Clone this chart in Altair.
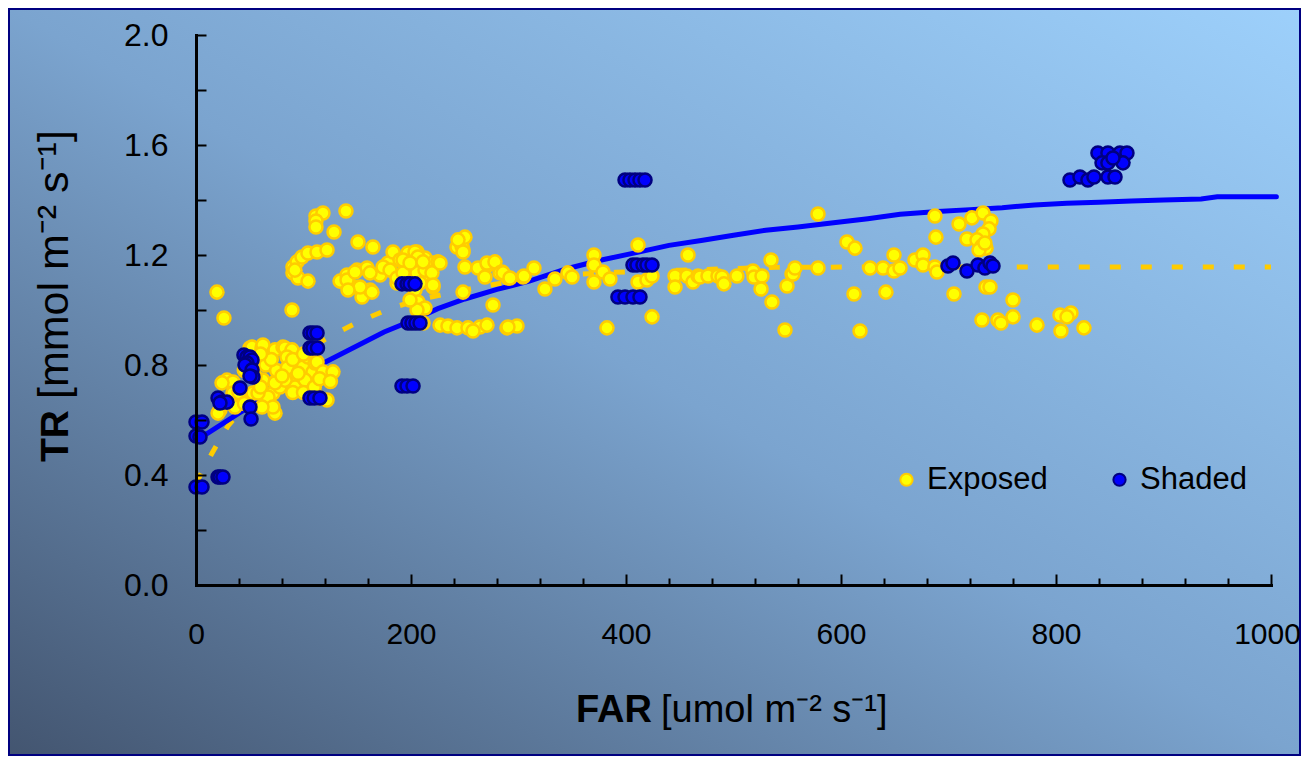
import altair as alt
import pandas as pd

FONT = "Liberation Sans, Arial, Helvetica, sans-serif"

series_names = ["Exposed", "Shaded"]
fill_colors = ["#FFFF00", "#0000FF"]
stroke_colors = ["#FFCC00", "#000080"]

exposed_x = [19.5, 26.0, 89.3, 111.6, 118.1, 111.6, 111.6, 139.5, 128.4, 150.7, 164.6,
             90.2, 94.0, 98.6, 104.2, 112.6, 121.9, 90.2, 94.9, 104.2, 92.0,
             134.0, 140.5, 149.8, 159.1, 154.4, 161.9, 146.0, 171.2, 178.6, 183.3, 189.8, 199.1, 205.6, 213.0, 220.5, 225.1, 220.5, 187.0, 199.1, 205.6, 211.2,
             140.5, 147.9, 161.9, 174.0, 152.6, 163.7, 141.4, 180.5, 187.0, 192.6, 205.6, 213.0, 219.5, 220.5, 208.4, 203.7, 206.5, 213.0, 205.6, 199.1, 197.2, 203.7, 206.5, 192.6, 199.1, 211.2, 227.0,
             245.6, 248.4, 242.8, 247.4, 250.2, 243.7, 248.4, 250.2, 262.3, 271.6, 270.7, 278.1, 284.6, 268.8, 276.3, 282.8, 290.2, 304.2, 248.4,
             211.2, 227.0, 234.4, 242.8, 253.0, 264.2, 270.7, 257.7, 289.3, 298.6,
             50.2, 52.1, 61.4, 62.3, 73.5, 80.9, 82.8, 89.3, 84.6, 99.5, 104.2, 108.8, 110.7, 112.6, 118.1, 127.4,
             28.8, 34.4, 24.2, 22.3, 20.5, 34.4, 36.3,
             62.3, 71.6, 78.1, 87.4, 66.0, 73.5, 53.0, 94.9, 103.3, 115.3, 121.9, 67.0, 57.7, 92.1, 101.4, 82.8, 73.5, 71.6, 61.4, 113.5,
             45.0, 55.0, 65.0, 75.0, 85.0, 95.0, 60.0, 80.0, 90.0, 100.0, 110.0, 40.0, 45.0, 70.0, 90.0, 100.0, 115.0, 125.0, 60.0,
             285.6, 292.1, 305.1, 314.4, 324.6, 333.9, 346.0, 349.8, 370.2, 370.2, 370.2, 378.6, 385.1, 411.2, 411.2, 419.5, 424.2, 424.2, 382.3, 290.2,
             445.6, 445.6, 456.7, 457.7, 462.3, 467.0, 468.8, 476.3, 485.6, 489.3, 491.1, 503.2, 518.1, 519.1, 526.5, 525.6, 534.9, 535.8, 547.9, 549.8, 554.4, 555.3, 557.2,
             578.6, 578.6, 605.6, 613.0, 612.1, 617.7, 627.0, 639.1, 649.3, 649.3, 654.9, 641.8, 668.8, 676.3, 676.3,
             687.4, 688.3, 687.4, 689.3, 705.1, 709.8, 717.2, 721.8, 732.1, 739.5, 737.7, 732.1, 726.5, 731.1, 734.9, 728.4, 733.9, 734.9, 738.6,
             731.1, 746.0, 748.8, 760.0, 760.0, 782.3, 803.7, 813.9, 810.2, 804.6, 826.0]
exposed_y = [1.065, 0.971, 1.000, 1.342, 1.353, 1.324, 1.302, 1.360, 1.284, 1.247, 1.229,
             1.156, 1.175, 1.193, 1.207, 1.211, 1.218, 1.135, 1.116, 1.105, 1.145,
             1.105, 1.127, 1.145, 1.153, 1.047, 1.073, 1.084, 1.127, 1.171, 1.211, 1.182, 1.200, 1.211, 1.189, 1.171, 1.175, 1.084, 1.098, 1.135, 1.153, 1.127,
             1.109, 1.138, 1.135, 1.156, 1.084, 1.065, 1.073, 1.145, 1.116, 1.135, 1.135, 1.145, 1.135, 1.091, 1.098, 1.073, 1.029, 1.007, 1.000, 1.036, 1.207, 1.211, 1.193, 1.182, 1.171, 1.175, 1.171,
             1.247, 1.218, 1.229, 1.233, 1.265, 1.255, 1.211, 1.156, 1.153, 1.164, 1.171, 1.175, 1.138, 1.120, 1.018, 1.135, 1.116, 1.120, 1.065,
             0.953, 0.945, 0.942, 0.935, 0.935, 0.938, 0.945, 0.924, 0.935, 0.942,
             0.862, 0.865, 0.862, 0.873, 0.855, 0.865, 0.862, 0.855, 0.829, 0.793, 0.829, 0.775, 0.807, 0.811, 0.775, 0.775,
             0.745, 0.738, 0.735, 0.636, 0.625, 0.698, 0.647,
             0.745, 0.698, 0.720, 0.745, 0.673, 0.625, 0.698, 0.738, 0.735, 0.680, 0.673, 0.684, 0.698, 0.720, 0.745, 0.745, 0.735, 0.647, 0.647, 0.684,
             0.780, 0.760, 0.800, 0.780, 0.790, 0.770, 0.720, 0.760, 0.700, 0.700, 0.720, 0.700, 0.660, 0.820, 0.820, 0.840, 0.750, 0.740, 0.840,
             1.135, 1.116, 1.124, 1.153, 1.076, 1.113, 1.135, 1.120, 1.200, 1.164, 1.102, 1.138, 1.113, 1.236, 1.102, 1.109, 1.124, 0.975, 0.935, 0.938,
             1.124, 1.084, 1.124, 1.200, 1.102, 1.124, 1.120, 1.124, 1.124, 1.120, 1.095, 1.124, 1.142, 1.120, 1.124, 1.076, 1.182, 1.029, 0.927, 1.087, 1.131, 1.131, 1.153,
             1.349, 1.153, 1.247, 1.225, 1.058, 0.924, 1.153, 1.153, 1.200, 1.142, 1.153, 1.065, 1.182, 1.200, 1.164,
             1.342, 1.265, 1.156, 1.138, 1.058, 1.313, 1.258, 1.335, 1.353, 1.324, 1.295, 1.276, 1.255, 1.233, 1.225, 1.218, 1.244, 1.084, 1.084,
             0.964, 0.964, 0.953, 1.036, 0.975, 0.945, 0.982, 0.989, 0.975, 0.924, 0.935]

shaded_x = [0.0, 5.6, 0.0, 3.7, 0.0, 5.6,
            20.5, 22.3, 25.1,
            20.5, 24.2, 28.8, 22.3,
            40.9,
            44.6, 47.4, 50.2, 52.1, 47.4, 45.6, 52.1, 53.0, 50.2,
            50.2, 51.2,
            106.0, 109.0, 112.6,
            106.0, 108.8, 113.0,
            106.0, 110.0, 115.3,
            191.6, 196.3, 199.1, 203.7,
            197.2, 200.9, 204.6, 208.4,
            191.6, 196.3, 201.9,
            399.1, 403.7, 408.4, 413.0, 417.7,
            406.5, 410.2, 415.8, 419.5, 424.2,
            392.5, 399.1, 406.5, 413.0,
            699.5, 704.2, 717.2, 727.4, 733.9, 738.6, 741.4,
            813.0, 822.3, 829.7, 835.3, 848.3, 854.9, 839.0, 848.3, 859.5, 866.0, 842.8, 848.3, 862.3, 853.0]
shaded_y = [0.593, 0.593, 0.542, 0.538, 0.356, 0.356,
            0.393, 0.393, 0.393,
            0.680, 0.665, 0.665, 0.662,
            0.716,
            0.836, 0.829, 0.829, 0.818, 0.807, 0.800, 0.782, 0.756, 0.760,
            0.647, 0.604,
            0.916, 0.916, 0.916,
            0.862, 0.862, 0.862,
            0.680, 0.680, 0.680,
            1.095, 1.095, 1.095, 1.095,
            0.953, 0.953, 0.953, 0.953,
            0.724, 0.724, 0.724,
            1.473, 1.473, 1.473, 1.473, 1.473,
            1.164, 1.164, 1.164, 1.164, 1.164,
            1.047, 1.047, 1.047, 1.047,
            1.160, 1.171, 1.142, 1.164, 1.153, 1.171, 1.160,
            1.473, 1.484, 1.473, 1.484, 1.484, 1.484, 1.571, 1.571, 1.571, 1.571, 1.535, 1.535, 1.535, 1.553]

fit_shaded_x = [5, 10, 40, 80, 120, 150, 175, 200, 225, 250, 280, 310, 345, 375, 405, 440, 470, 500,
                530, 560, 595, 625, 655, 690, 720, 750, 780, 810, 840, 870, 900, 935, 950, 1005]
fit_shaded_y = [0.54, 0.55, 0.625, 0.72, 0.81, 0.87, 0.92, 0.96, 1.005, 1.04, 1.075, 1.105, 1.15, 1.18, 1.205,
                1.235, 1.253, 1.272, 1.29, 1.302, 1.318, 1.332, 1.348, 1.358, 1.365, 1.372, 1.382, 1.388,
                1.392, 1.396, 1.40, 1.404, 1.412, 1.412]

fit_exposed_x = [0, 15, 30, 50, 75, 100, 125, 150, 180, 210, 240, 270, 300, 330, 360, 390, 420, 450,
                 480, 510, 540, 600, 1000]
fit_exposed_y = [0.37, 0.48, 0.58, 0.67, 0.77, 0.845, 0.905, 0.955, 1.005, 1.04, 1.065, 1.088, 1.108,
                 1.122, 1.131, 1.137, 1.142, 1.145, 1.148, 1.152, 1.155, 1.156, 1.156]

x_tick_values = [0, 40, 80, 120, 160, 200, 240, 280, 320, 360, 400, 440, 480, 520, 560, 600, 640, 680,
                 720, 760, 800, 840, 880, 920, 960, 1000]
y_tick_values = [0.0, 0.2, 0.4, 0.6, 0.8, 1.0, 1.2, 1.4, 1.6, 1.8, 2.0]

y_title_bold = "TR"
y_title_rest = "[mmol m\u207b\u00b2 s\u207b\u00b9]"
x_title_bold = "FAR"
x_title_rest = "[umol m\u207b\u00b2 s\u207b\u00b9]"

# ---------------- layout ----------------
W, H = 1293, 748
X0, X1 = 188, 1263     # pixel positions of x = 0 and x = 1000
Y0, Y1 = 577, 27       # pixel positions of y = 0 and y = 2.0

x_scale = alt.Scale(domain=[0, 1000], range=[X0, X1], nice=False, zero=False)
y_scale = alt.Scale(domain=[0, 2], range=[Y0, Y1], nice=False, zero=False)

x_axis = alt.Axis(orient="top", offset=-Y0, values=x_tick_values,
                  labelExpr="(datum.value % 200 == 0) ? format(datum.value, 'd') : ''",
                  domain=True, domainColor="black", domainWidth=3, domainCap="square",
                  ticks=True, tickColor="black", tickWidth=2,
                  tickSize={"condition": {"test": "datum.value % 200 == 0", "value": 11}, "value": 7},
                  labelOffset={"condition": {"test": "datum.value == 1000", "value": -4}, "value": 0},
                  labelPadding=-69, labelBaseline="alphabetic", labelAlign="center",
                  labelFlush=False, labelOverlap=False, labelFont=FONT, labelFontSize=30,
                  labelColor="black", grid=False, title=None, zindex=2)
y_axis = alt.Axis(orient="right", offset=-(W - X0), values=y_tick_values,
                  labelExpr="(round(datum.value * 10) % 4 == 0) ? format(datum.value, '.1f') : ''",
                  domain=True, domainColor="black", domainWidth=3, domainCap="square",
                  ticks=True, tickColor="black", tickWidth=2, tickSize=10,
                  labelPadding=-38, labelAlign="right", labelBaseline="middle",
                  labelFlush=False, labelOverlap=False, labelFont=FONT, labelFontSize=32,
                  labelColor="black", grid=False, title=None, zindex=2)

X = alt.X("x:Q", scale=x_scale, axis=x_axis)
Y = alt.Y("y:Q", scale=y_scale, axis=y_axis)

points_df = pd.concat([
    pd.DataFrame({"x": exposed_x, "y": exposed_y, "series": series_names[0]}),
    pd.DataFrame({"x": shaded_x, "y": shaded_y, "series": series_names[1]}),
], ignore_index=True)
points_df["order"] = range(len(points_df))

fit_shaded_df = pd.DataFrame({"x": fit_shaded_x, "y": fit_shaded_y})
fit_exposed_df = pd.DataFrame({"x": fit_exposed_x, "y": fit_exposed_y})

gradient = alt.LinearGradient(
    gradient="linear", x1=0, y1=1, x2=1, y2=0,
    stops=[alt.GradientStop(offset=0, color="#435570"),
           alt.GradientStop(offset=0.5, color="#7ba4cf"),
           alt.GradientStop(offset=1, color="#9dd0fb")])

bg = alt.Chart(pd.DataFrame({"k": [0]})).mark_rect(
    fill=gradient, stroke="#000080", strokeWidth=4
).encode(x=alt.value(0), x2=alt.value("width"), y=alt.value(0), y2=alt.value("height"))

line_exposed = alt.Chart(fit_exposed_df).mark_line(
    color="#FFCC00", strokeWidth=5, strokeDash=[11, 20]
).encode(x=X, y=Y)

line_shaded = alt.Chart(fit_shaded_df).mark_line(
    color="#0000FF", strokeWidth=5, strokeCap="round"
).encode(x=X, y=Y)

legend = alt.Legend(orient="none", legendX=883, legendY=456, direction="horizontal",
                    title=None, labelFont=FONT, labelFontSize=31, labelColor="black",
                    symbolType="circle", symbolSize=150, symbolStrokeWidth=2,
                    labelOffset=5, columnPadding=56, padding=0, zindex=2)

points = alt.Chart(points_df).mark_circle(size=170, strokeWidth=2.5, opacity=1).encode(
    x=X, y=Y,
    fill=alt.Fill("series:N", scale=alt.Scale(domain=series_names, range=fill_colors), legend=legend),
    stroke=alt.Stroke("series:N", scale=alt.Scale(domain=series_names, range=stroke_colors), legend=legend),
    order=alt.Order("order:Q"),
)

def title_text(txt, x, y, size, weight, angle):
    return alt.Chart(pd.DataFrame({"t": [txt]})).mark_text(
        font=FONT, fontSize=size, fontWeight=weight, angle=angle, align="left",
        baseline="alphabetic", color="black"
    ).encode(x=alt.value(x), y=alt.value(y), text="t:N")

ty1 = title_text(y_title_bold, 60, 454, 39, "bold", 270)
ty2 = title_text(y_title_rest, 60, 391, 43, "normal", 270)
tx1 = title_text(x_title_bold, 568, 714, 38, "bold", 0)
tx2 = title_text(x_title_rest, 653, 714, 38, "normal", 0)

chart = alt.layer(bg, line_exposed, line_shaded, points, ty1, ty2, tx1, tx2).properties(
    width=W, height=H, padding=0, autosize=alt.AutoSizeParams(type="none")
).configure_view(stroke=None)

chart.save("out.html", embed_options={"renderer": "svg", "actions": False})
